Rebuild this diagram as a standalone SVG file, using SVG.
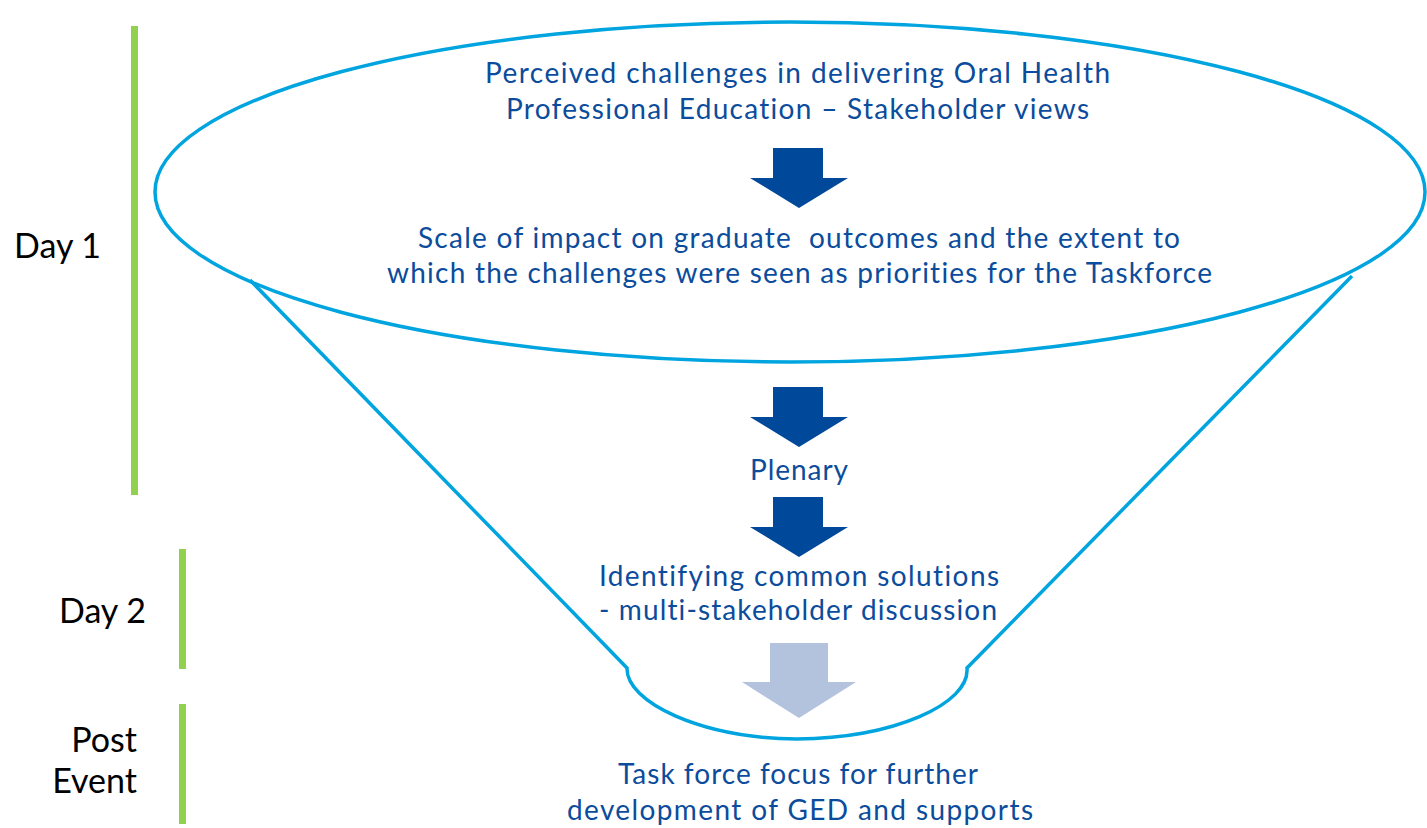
<svg xmlns="http://www.w3.org/2000/svg" width="1427" height="828" viewBox="0 0 1427 828">
  <style>
    .funnel { fill: none; stroke: #00a4df; stroke-width: 3.5; }
    .bar { fill: #92d050; }
    .step { font-family: Lato, "Liberation Sans", sans-serif; font-size: 28px; fill: #0b4c9c; text-anchor: middle; font-variant-ligatures: none; }
    .phase { font-family: Lato, "Liberation Sans", sans-serif; font-size: 34px; fill: #000; }
    .arrow { fill: #004899; }
    .arrow-light { fill: #b3c3de; }
  </style>

  <!-- timeline bars -->
  <g id="day1">
    <rect class="bar" x="131" y="26" width="7" height="469"/>
    <text class="phase" x="14" y="258">Day 1</text>
  </g>
  <g id="day2">
    <rect class="bar" x="179" y="549" width="7" height="120"/>
    <text class="phase" x="146" y="623" text-anchor="end">Day 2</text>
  </g>
  <g id="post-event">
    <rect class="bar" x="179" y="704" width="7" height="120"/>
    <text class="phase" x="137" y="752" text-anchor="end">Post</text>
    <text class="phase" x="137" y="793" text-anchor="end">Event</text>
  </g>

  <!-- funnel outline -->
  <g id="funnel">
    <ellipse class="funnel" cx="790" cy="192" rx="635" ry="170"/>
    <path class="funnel" d="M250,280 L627,668 C626,702 700,738 797,739 C894,738 970,704 967,668 L1352,276"/>
  </g>

  <!-- flow arrows -->
  <g id="connectors">
    <polygon class="arrow" points="773,148 823,148 823,178 848,178 799,208 750,178 773,178"/>
    <polygon class="arrow" points="773,387 823,387 823,417 848,417 799,447 750,417 773,417"/>
    <polygon class="arrow" points="773,497 823,497 823,527 848,527 799,557 750,527 773,527"/>
    <polygon class="arrow-light" points="770,643 828,643 828,682 856,682 799,718 742,682 770,682"/>
  </g>

  <g id="challenges">
    <text class="step" x="797.5" y="83" textLength="625" lengthAdjust="spacing">Perceived challenges in delivering Oral Health</text>
    <text class="step" x="797.5" y="119" textLength="583" lengthAdjust="spacing">Professional Education – Stakeholder views</text>
  </g>
  <g id="impact">
    <text class="step" x="799" y="248" textLength="762" lengthAdjust="spacing" xml:space="preserve">Scale of impact on graduate  outcomes and the extent to</text>
    <text class="step" x="799.5" y="283" textLength="825" lengthAdjust="spacing">which the challenges were seen as priorities for the Taskforce</text>
  </g>
  <g id="plenary">
    <text class="step" x="799" y="480" textLength="98" lengthAdjust="spacing">Plenary</text>
  </g>
  <g id="solutions">
    <text class="step" x="799" y="586" textLength="400" lengthAdjust="spacing">Identifying common solutions</text>
    <text class="step" x="798" y="620" textLength="398" lengthAdjust="spacing">- multi-stakeholder discussion</text>
  </g>
  <g id="taskforce">
    <text class="step" x="798" y="784" textLength="360" lengthAdjust="spacing">Task force focus for further</text>
    <text class="step" x="800" y="820" textLength="466" lengthAdjust="spacing">development of GED and supports</text>
  </g>
</svg>
